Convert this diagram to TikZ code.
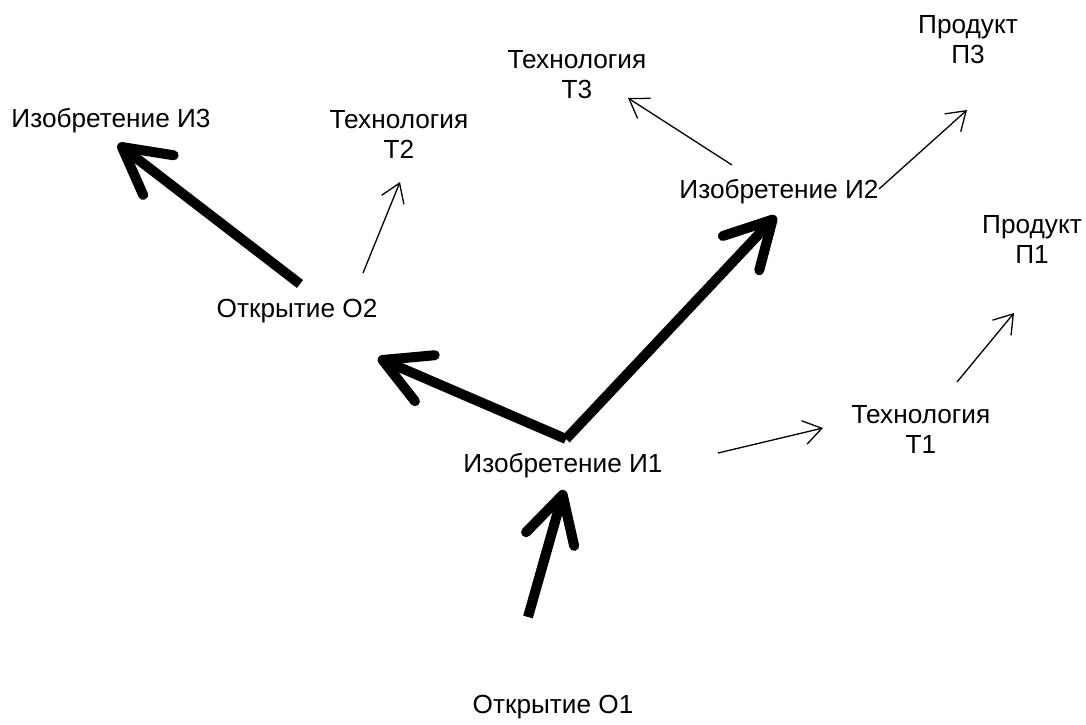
\documentclass[tikz,border=0pt]{standalone}
\usepackage{fontspec}
\setmainfont{Liberation Sans}
\usetikzlibrary{arrows.meta}

\begin{document}
\begin{tikzpicture}[x=0.5pt,y=-0.5pt,
    lbl/.style={anchor=base,inner sep=0pt,align=center,font=\fontsize{13.1}{15}\selectfont},
    bigarr/.style={line width=5pt,-{Straight Barb[round,length=23pt,width=25pt]}},
    smallarr/.style={line width=0.65pt,-{Straight Barb[length=9pt,width=12pt]}}]
        \useasboundingbox (0,0) rectangle (1086,724);
        % labels (two-line ones sit on the baseline of their last line)
        \node[lbl] (i3) at (111,127) {Изобретение И3};
        \node[lbl] (t2) at (399,158) {Технология\\Т2};
        \node[lbl] (t3) at (577,98) {Технология\\Т3};
        \node[lbl] (p3) at (968,63) {Продукт\\П3};
        \node[lbl] (i2) at (779,198) {Изобретение И2};
        \node[lbl] (p1) at (1032,263) {Продукт\\П1};
        \node[lbl] (o2) at (297,317) {Открытие О2};
        \node[lbl] (t1) at (921,453) {Технология\\Т1};
        \node[lbl] (i1) at (563,472) {Изобретение И1};
        \node[lbl] (o1) at (553,713) {Открытие О1};
        % ends of the arrows
        \coordinate (o2-a) at (300,284);  \coordinate (i3-b) at (118,144);
        \coordinate (i1-a) at (566,439);  \coordinate (o2-b) at (378,358);
        \coordinate (i1-c) at (566,439);  \coordinate (i2-b) at (776,216);
        \coordinate (o1-a) at (528,617);  \coordinate (i1-b) at (564,490);
        \coordinate (o2-c) at (363,273);  \coordinate (t2-b) at (400,182);
        \coordinate (i2-a) at (732,165);  \coordinate (t3-b) at (628,98);
        \coordinate (i2-c) at (879,189);  \coordinate (p3-b) at (967,110);
        \coordinate (i1-d) at (718,453);  \coordinate (t1-b) at (823,428);
        \coordinate (t1-a) at (957,382);  \coordinate (p1-b) at (1014,313);
        % thick arrows
        \foreach \s/\e in {o2-a/i3-b,i1-a/o2-b,i1-c/i2-b,o1-a/i1-b}{
          \draw[bigarr] (\s) -- (\e);
        }
        % thin arrows
        \foreach \s/\e in {o2-c/t2-b,i2-a/t3-b,i2-c/p3-b,i1-d/t1-b,t1-a/p1-b}{
          \draw[smallarr] (\s) -- (\e);
        }
\end{tikzpicture}
\end{document}
